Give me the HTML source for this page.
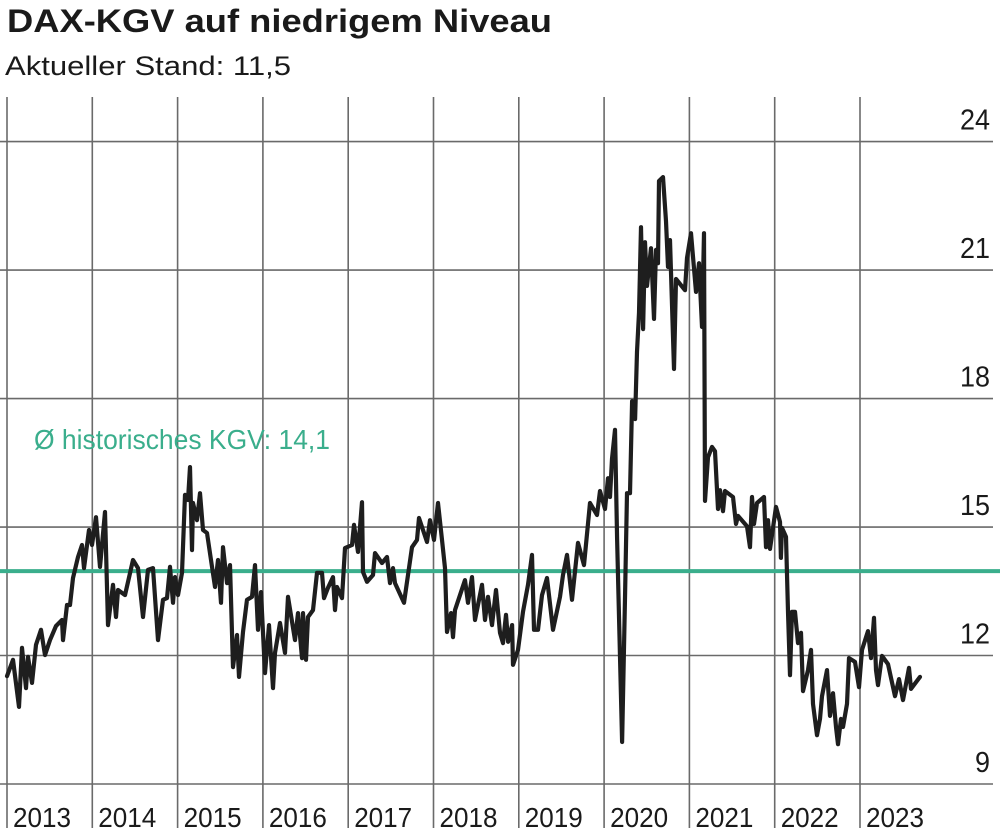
<!DOCTYPE html>
<html><head><meta charset="utf-8"><style>
html,body{margin:0;padding:0;background:#fff;}
svg{display:block;font-family:"Liberation Sans",sans-serif;}
</style></head><body>
<svg id="chart" width="1000" height="836" viewBox="0 0 1000 836" xmlns="http://www.w3.org/2000/svg">
<text x="7" y="32" font-size="32" font-weight="bold" fill="#1a1a1a" textLength="545" lengthAdjust="spacingAndGlyphs">DAX-KGV auf niedrigem Niveau</text>
<text x="5" y="75" font-size="27" fill="#1a1a1a" textLength="286" lengthAdjust="spacingAndGlyphs">Aktueller Stand: 11,5</text>
<g id="grid"></g>
<g id="labels"></g>
<g id="avg"></g>
<g id="series"></g>
</svg>
<script>
const yTicks=[9,12,15,18,21,24];
const years=[2013,2014,2015,2016,2017,2018,2019,2020,2021,2022,2023];
const avgValue=13.97;
const avgLabel="Ø historisches KGV: 14,1";
const dates=[2013.0,2013.07,2013.141,2013.176,2013.223,2013.246,2013.293,2013.34,2013.399,2013.445,2013.504,2013.574,2013.645,2013.657,2013.703,2013.739,2013.774,2013.832,2013.879,2013.903,2013.961,2013.996,
2014.043,2014.09,2014.149,2014.184,2014.243,2014.278,2014.301,2014.383,2014.477,2014.536,2014.594,2014.653,2014.712,2014.77,2014.829,2014.876,2014.911,2014.946,2014.97,
2015.005,2015.052,2015.087,2015.122,2015.145,2015.169,2015.181,2015.227,2015.263,2015.298,2015.345,2015.392,2015.438,2015.474,2015.509,2015.532,2015.579,2015.614,2015.649,2015.696,2015.72,2015.767,2015.814,2015.872,2015.907,2015.943,2015.978,
2016.025,2016.072,2016.118,2016.142,2016.2,2016.259,2016.294,2016.376,2016.411,2016.458,2016.47,2016.505,2016.529,2016.587,2016.634,2016.693,2016.716,2016.763,2016.822,2016.845,2016.869,2016.927,2016.962,
2017.045,2017.068,2017.115,2017.162,2017.173,2017.22,2017.291,2017.314,2017.396,2017.455,2017.49,2017.525,2017.549,2017.654,2017.748,2017.807,2017.83,2017.924,2017.959,
2018.006,2018.053,2018.1,2018.135,2018.158,2018.205,2018.229,2018.252,2018.369,2018.404,2018.451,2018.487,2018.569,2018.604,2018.639,2018.686,2018.733,2018.78,2018.815,2018.85,2018.874,2018.921,2018.932,2018.991,
2019.049,2019.108,2019.155,2019.178,2019.225,2019.272,2019.331,2019.401,2019.483,2019.518,2019.565,2019.624,2019.694,2019.764,2019.835,2019.917,2019.952,
2020.011,2020.046,2020.069,2020.093,2020.128,2020.152,2020.211,2020.246,2020.269,2020.304,2020.328,2020.363,2020.386,2020.409,2020.433,2020.457,2020.48,2020.503,2020.55,2020.585,2020.609,2020.632,2020.644,2020.691,2020.726,2020.749,2020.773,2020.82,2020.843,2020.948,2020.972,
2021.019,2021.077,2021.112,2021.148,2021.171,2021.183,2021.218,2021.265,2021.3,2021.335,2021.359,2021.394,2021.417,2021.511,2021.546,2021.57,2021.675,2021.71,2021.734,2021.757,2021.793,2021.875,2021.898,2021.921,2021.945,2021.98,
2022.015,2022.062,2022.073,2022.085,2022.132,2022.156,2022.179,2022.203,2022.238,2022.273,2022.308,2022.332,2022.39,2022.426,2022.449,2022.496,2022.531,2022.555,2022.613,2022.648,2022.683,2022.719,2022.742,2022.777,2022.801,2022.848,2022.871,2022.941,2022.988,
2023.023,2023.094,2023.129,2023.164,2023.188,2023.211,2023.258,2023.328,2023.41,2023.457,2023.504,2023.574,2023.598,2023.703];
const kgv=[11.52,11.9,10.8,12.18,11.24,11.97,11.36,12.25,12.6,12.01,12.36,12.69,12.83,12.36,13.18,13.18,13.81,14.3,14.58,14.04,14.93,14.58,
15.23,14.07,15.35,12.71,13.65,12.9,13.53,13.41,14.23,14.04,12.9,14.0,14.04,12.36,13.3,13.34,14.07,13.23,13.83,
13.41,13.93,15.75,15.63,16.4,14.46,15.56,15.16,15.79,14.93,14.86,14.23,13.6,14.23,13.23,14.53,13.69,14.11,11.73,12.48,11.5,12.55,13.3,13.37,14.11,12.6,13.48,
11.59,12.71,11.24,12.06,12.76,12.06,13.37,12.36,12.99,11.94,12.99,11.9,12.9,13.06,13.93,13.93,13.34,13.58,13.83,13.06,13.6,13.34,14.51,
14.58,15.05,14.42,15.58,13.95,13.72,13.88,14.39,14.16,14.3,13.69,14.04,13.69,13.23,14.53,14.7,15.21,14.65,15.16,
14.7,15.56,14.7,14.04,12.55,12.99,12.43,13.06,13.76,13.23,13.83,12.83,13.65,12.83,13.37,12.71,13.53,12.53,12.29,12.95,12.32,12.71,11.78,12.13,
13.02,13.65,14.35,12.6,12.6,13.41,13.81,12.6,13.37,13.88,14.35,13.3,14.63,14.11,15.56,15.28,15.84,
15.42,16.14,15.7,16.59,17.27,14.72,9.98,13.46,15.79,15.79,17.94,17.52,19.09,20.0,22.0,19.62,21.65,20.63,21.51,19.86,21.47,21.16,23.08,23.17,22.14,21.07,21.7,18.69,20.79,20.53,21.28,
21.86,20.49,21.16,19.67,21.86,15.61,16.63,16.87,16.77,15.42,15.86,15.37,15.84,15.7,15.07,15.26,15.02,14.53,15.7,15.07,15.56,15.7,14.53,15.16,14.49,14.98,
15.47,15.12,14.28,14.98,14.77,13.02,11.54,13.02,13.02,12.29,12.53,11.17,11.66,12.13,10.87,10.14,10.52,11.05,11.66,10.59,11.12,10.33,9.93,10.52,10.33,10.87,11.94,11.85,11.26,
12.13,12.57,11.94,12.88,11.66,11.31,11.99,11.8,11.05,11.45,10.96,11.71,11.22,11.5];

const NS="http://www.w3.org/2000/svg";
const X0=7, XW=85.3, Y0=784, YU=42.83;
function xs(t){return X0+(t-2013)*XW;}
function ys(v){return Y0-(v-9)*YU;}
function mk(tag,attrs,parent){const e=document.createElementNS(NS,tag);for(const k in attrs)e.setAttribute(k,attrs[k]);parent.appendChild(e);return e;}
const grid=document.getElementById('grid'), labels=document.getElementById('labels');
yTicks.forEach(v=>{
  const l=mk('line',{x1:0,x2:993,y1:ys(v),y2:ys(v),stroke:'#6a6a6a','stroke-width':1.6},grid);
  
  
  const t=mk('text',{x:990,y:ys(v)-12,'text-anchor':'end','font-size':29,fill:'#1a1a1a',textLength:(String(v).length*15),lengthAdjust:'spacingAndGlyphs'},labels);
  t.textContent=String(v);
  
  
});
for(let i=0;i<years.length;i++){
  const x=xs(2013+i);
  const l=mk('line',{x1:x,x2:x,y1:97,y2:828,stroke:'#6a6a6a','stroke-width':1.6},grid);
  
  
}
years.forEach(y=>{
  const t=mk('text',{x:xs(y)+6,y:827,'font-size':28,fill:'#1a1a1a',textLength:58,lengthAdjust:'spacingAndGlyphs'},labels);
  t.textContent=String(y);
  
  
});
const avg=document.getElementById('avg');
const al=mk('line',{x1:0,x2:1000,y1:ys(avgValue),y2:ys(avgValue),stroke:'#3aae8c','stroke-width':4},avg);


const at=mk('text',{x:34,y:ys(avgValue)-122,'font-size':28,fill:'#3aae8c',textLength:296,lengthAdjust:'spacingAndGlyphs'},avg);
at.textContent=avgLabel;


const series=document.getElementById('series');
const d=dates.map((t,i)=>(i?'L':'M')+xs(t).toFixed(1)+' '+ys(kgv[i]).toFixed(1)).join(' ');
const p=mk('path',{d:d,fill:'none',stroke:'#1e1e1e','stroke-width':4.2,'stroke-linejoin':'round','stroke-linecap':'round'},series);


</script>
</body></html>
